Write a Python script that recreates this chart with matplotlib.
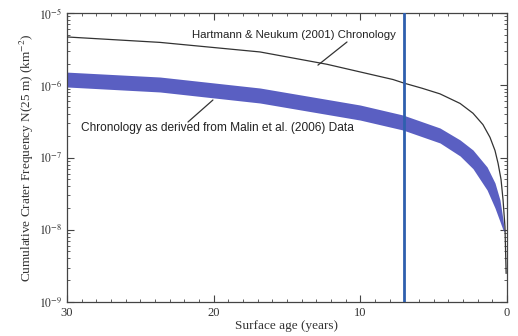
import matplotlib
matplotlib.use("Agg")
import matplotlib.pyplot as plt
from matplotlib.ticker import LogLocator, FixedLocator, NullFormatter

plt.rcParams["mathtext.fontset"] = "stix"

# Hartmann & Neukum (2001) chronology curve (age in years, N(25 m) per km^2)
hn_age = [30.0, 23.66, 16.84, 12.27, 7.77, 7.02, 5.8, 4.57, 3.20, 2.32, 1.64, 1.16,
          0.82, 0.61, 0.41, 0.27, 0.14, 0.06]
hn_val = [4.66e-6, 3.92e-6, 2.89e-6, 1.95e-6, 1.20e-6, 1.07e-6, 9.1e-7, 7.6e-7, 5.6e-7, 4.1e-7,
          2.85e-7, 1.9e-7, 1.25e-7, 8.3e-8, 5.0e-8, 2.58e-8, 1.1e-8, 2.5e-9]

# Malin et al. (2006) derived chronology band
band_age = [30.0, 23.66, 16.84, 10.02, 7.09, 4.57, 3.20, 2.32, 1.36, 0.82, 0.48, 0.27, 0.17]
band_top = [1.52e-6, 1.30e-6, 9.16e-7, 5.33e-7, 3.87e-7, 2.56e-7, 1.75e-7, 1.27e-7,
            7.4e-8, 4.44e-8, 2.58e-8, 1.36e-8, 9.3e-9]
band_bot = [9.46e-7, 8.07e-7, 5.68e-7, 3.30e-7, 2.40e-7, 1.59e-7, 1.05e-7, 7.0e-8,
            3.55e-8, 2.0e-8, 1.3e-8, 9.9e-9, 9.3e-9]

marker_age = 7.0
xticks = [30, 20, 10, 0]
yticks = [1e-9, 1e-8, 1e-7, 1e-6, 1e-5]
ytick_labels = [r"$10^{-9}$", r"$10^{-8}$", r"$10^{-7}$", r"$10^{-6}$", r"$10^{-5}$"]

fig = plt.figure(figsize=(5.18, 3.36), dpi=100)
ax = fig.add_axes([0.1293, 0.1012, 0.8495, 0.8601])

ax.fill_between(band_age, band_bot, band_top, color="#5a5fc2", lw=0, zorder=2)
ax.plot(hn_age, hn_val, color="#333333", lw=0.9, zorder=3)
ax.axvline(marker_age, color="#2e5fae", lw=2.0, zorder=4)

ax.set_yscale("log")
ax.set_xlim(30, 0)
ax.set_ylim(1e-9, 1e-5)

serif = ["Liberation Serif", "DejaVu Serif"]
ax.set_xticks(xticks)
ax.set_xticklabels([str(v) for v in xticks], family=serif, fontsize=9, color="#333333")
ax.xaxis.set_minor_locator(FixedLocator(list(range(0, 31))))
ax.set_yticks(yticks)
ax.set_yticklabels(ytick_labels, fontsize=8.5, color="#333333")
ax.yaxis.set_minor_locator(LogLocator(base=10, subs=range(2, 10), numticks=20))
ax.yaxis.set_minor_formatter(NullFormatter())
ax.tick_params(which="both", direction="in", top=True, right=True, color="#444444")
ax.tick_params(which="major", length=5, width=0.8)
ax.tick_params(which="minor", length=2.5, width=0.6)
for s in ax.spines.values():
    s.set_color("#444444")
    s.set_linewidth(0.9)

ax.set_xlabel("Surface age (years)", family=serif, fontsize=9.5, color="#333333", labelpad=1)
ax.set_ylabel(r"Cumulative Crater Frequency N(25 m) (km$^{-2}$)", family=serif, fontsize=9.5,
              color="#333333", labelpad=2)

sans = ["Liberation Sans", "DejaVu Sans"]
ax.text(14.56, 4.97e-6, "Hartmann & Neukum (2001) Chronology", fontsize=8.2, family=sans,
        color="#222222", ha="center", va="center", zorder=5)
ax.annotate("", xy=(12.89, 1.9e-6), xytext=(10.91, 3.97e-6),
            arrowprops=dict(arrowstyle="-", color="#333333", lw=0.9, shrinkA=0, shrinkB=0))
ax.text(19.77, 2.57e-7, "Chronology as derived from Malin et al. (2006) Data", fontsize=8.6,
        family=sans, color="#222222", ha="center", va="center", zorder=5)
ax.annotate("", xy=(20.05, 6.25e-7), xytext=(21.75, 3.1e-7),
            arrowprops=dict(arrowstyle="-", color="#333333", lw=0.9, shrinkA=0, shrinkB=0))

fig.savefig("out.png", dpi=100)
